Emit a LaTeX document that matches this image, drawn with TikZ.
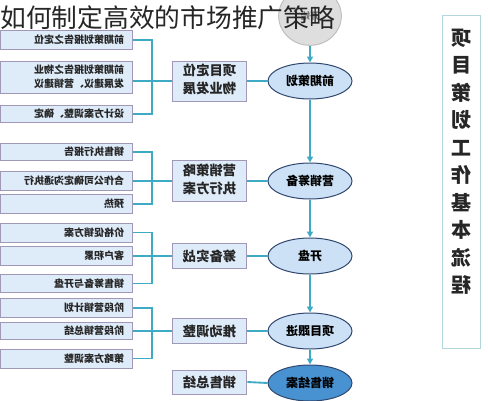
\documentclass[tikz,border=0pt]{standalone}
\usepackage{fontspec}
\usepackage{graphicx}
\newfontfamily\cjk{Noto Sans CJK SC}
\usetikzlibrary{shapes.geometric,arrows.meta}

\definecolor{linkc}{RGB}{62,170,196}
\definecolor{boxfill}{RGB}{222,235,249}
\definecolor{boxline}{RGB}{160,152,182}
\definecolor{ellfill}{RGB}{204,225,245}
\definecolor{ellline}{RGB}{48,72,112}
\definecolor{endfill}{RGB}{72,146,210}
\definecolor{startfill}{RGB}{222,222,222}
\definecolor{sideline}{RGB}{178,214,220}

\newcommand{\mir}[1]{\reflectbox{#1}}
\newcommand{\mirl}[2]{\reflectbox{\begin{tabular}{@{}l@{}}#1\\#2\end{tabular}}}
\newcommand{\mirc}[2]{\reflectbox{\begin{tabular}{@{}c@{}}#1\\#2\end{tabular}}}

\tikzset{every picture/.style={line width=0.75pt}}
\tikzset{
  lbox/.style={draw=boxline, fill=boxfill, minimum height=14.25pt, text width=87pt,
    inner xsep=6pt, inner ysep=1pt, align=right, text=black!85,
    font=\cjk\bfseries\fontsize{7.5}{11}\selectfont},
  mbox/.style={draw=boxline, fill=boxfill, minimum width=56pt, minimum height=19pt,
    inner sep=1pt, text=black!85, font=\cjk\bfseries\fontsize{10}{13.5}\selectfont},
  stage/.style={ellipse, draw=ellline, fill=ellfill, minimum width=63pt, minimum height=27pt,
    inner sep=0pt, font=\cjk\bfseries\fontsize{9}{11}\selectfont},
  link/.style={draw=linkc, line width=1.4pt},
  flow/.style={link, -{Triangle[length=4.5pt,width=4.5pt]}},
}

\begin{document}
\begin{tikzpicture}[x=0.75pt,y=0.75pt,yscale=-1,xscale=1]
\useasboundingbox (0,0) rectangle (488,400);

%Shape: side panel
\node [draw=sideline, fill=white, minimum width=29pt, minimum height=250pt, inner sep=0pt] (side) at (461.5,182) {};
% Text Node
\node [font=\cjk\bfseries\fontsize{15}{20.6}\selectfont, text=black!85, align=center] (sidetxt) at (461.5,163.5)
  {\mir{\begin{tabular}{@{}c@{}}项\\目\\策\\划\\工\\作\\基\\本\\流\\程\end{tabular}}};

%Shape: stages
\node [stage, fill=startfill, draw=black!25, minimum width=47pt, minimum height=44pt,
  font=\cjk\bfseries\fontsize{7}{8}\selectfont, text=black!55] (e0) at (310,16) {\mir{开始}};
\node [stage] (e1) at (310,81) {\mir{前期策划}};
\node [stage] (e2) at (310,181) {\mir{营销筹备}};
\node [stage] (e3) at (310,256) {\mir{开盘}};
\node [stage] (e4) at (310,331) {\mir{项目跟进}};
\node [stage, fill=endfill] (e5) at (310,383) {\mir{销售结案}};

%Shape: middle boxes
\node [mbox, minimum height=30pt] (m1) at (209.5,81) {\mirc{项目定位}{物业发展}};
\node [mbox, minimum height=31pt] (m2) at (209.5,181) {\mirc{营销策略}{执行方案}};
\node [mbox] (m3) at (209.5,256) {\mir{筹备实战}};
\node [mbox] (m4) at (209.5,331) {\mir{推动调整}};
\node [mbox, minimum height=18pt] (m5) at (209.5,382) {\mir{销售总结}};

%Shape: left boxes
\node [lbox] (b1) at (66,40) {\mir{前期策划报告之定位}};
\node [lbox, minimum height=23pt] (b2) at (66,77.5) {\mirl{前期策划报告之物业}{发展建议、营销建议}};
\node [lbox, minimum height=13pt] (b3) at (66,114) {\mir{设计方案调整、确定}};
\node [lbox, minimum height=13pt] (b4) at (66,152) {\mir{销售执行报告}};
\node [lbox] (b5) at (66,181) {\mir{合作公司确定沟通执行}};
\node [lbox] (b6) at (66,204) {\mir{预热}};
\node [lbox] (b7) at (66,232.5) {\mir{价格促销方案}};
\node [lbox] (b8) at (66,256) {\mir{客户积累}};
\node [lbox, minimum height=13pt] (b9) at (66,283.5) {\mir{销售筹备与开盘}};
\node [lbox] (b10) at (66,308) {\mir{阶段营销计划}};
\node [lbox, minimum height=13pt] (b11) at (66,331) {\mir{阶段营销总结}};
\node [lbox] (b12) at (66,358.5) {\mir{策略方案调整}};

%Straight Lines
\coordinate (j1) at (152,81);
\coordinate (j2) at (152,181);
\coordinate (j3) at (152,256);
\coordinate (j4) at (152,331);
\draw [link] (b1.east) -| (j1) |- (b3.east);
\draw [link] (b4.east) -| (j2) |- (b6.east);
\draw [link] (b7.east) -| (j3) |- (b9.east);
\draw [link] (b10.east) -| (j4) |- (b12.east);
\draw [link] (b2.east |- m1.west) -- (m1.west);
\draw [link] (b5.east) -- (m2.west);
\draw [link] (b8.east) -- (m3.west);
\draw [link] (b11.east) -- (m4.west);
\draw [link] (m1.east) -- (e1.west);
\draw [link] (m2.east) -- (e2.west);
\draw [link] (m3.east) -- (e3.west);
\draw [link] (m4.east) -- (e4.west);
\draw [link] (m5.east) -- (e5.west);
\draw [flow] (e0.south) -- (e1.north);
\draw [flow] (e1.south) -- (e2.north);
\draw [flow] (e2.south) -- (e3.north);
\draw [flow] (e3.south) -- (e4.north);
\draw [flow] (e4.south) -- (e5.north);

% Text Node
\node [anchor=west, inner sep=0pt, font=\cjk\fontsize{19.3}{22}\selectfont, text=black!85] (title) at (0,18) {如何制定高效的市场推广策略};

\end{tikzpicture}
\end{document}
